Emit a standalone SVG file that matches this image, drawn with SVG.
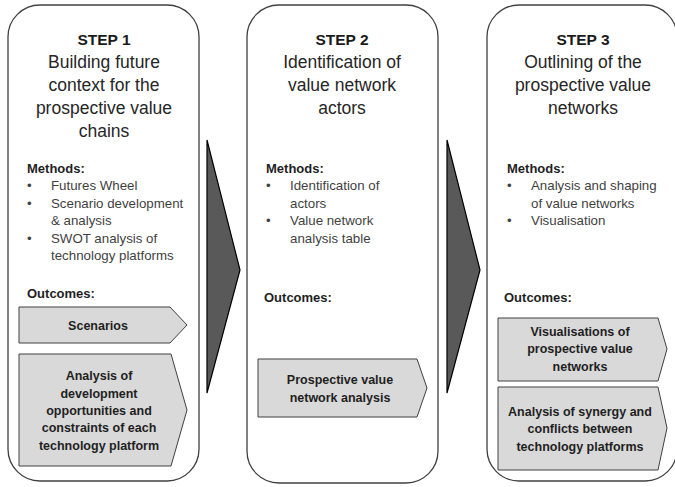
<svg xmlns="http://www.w3.org/2000/svg" width="675" height="487" viewBox="0 0 675 487">
<style>
.step{fill:#fff;stroke:#404040;stroke-width:1.3}
.arr{fill:#595959;stroke:#000;stroke-width:1.2;stroke-linejoin:miter}
.out{fill:#d9d9d9;stroke:#404040;stroke-width:1}
text{font-family:"Liberation Sans",Arial,sans-serif}
.h{font-size:15.5px;font-weight:bold;fill:#1a1a1a;text-anchor:middle}
.t{font-size:17.5px;fill:#262626;text-anchor:middle}
.lab{font-size:13px;font-weight:bold;fill:#1f1f1f}
.b{font-size:13.3px;fill:#3f3f3f}
.o{font-size:12.5px;font-weight:bold;fill:#1f1f1f;text-anchor:middle}
</style>
<rect width="675" height="487" fill="#fff"/>
<g id="connectors">
<polygon class="arr" points="207,140 240,270 207,393"/>
<polygon class="arr" points="447,140 480,270 447,393"/>
</g>
<g id="step1">
<rect class="step" x="8" y="5" width="191" height="476" rx="32" ry="32"/>
<text class="h" x="104" y="45">STEP 1</text>
<text class="t" x="104" y="68">Building future</text>
<text class="t" x="104" y="91">context for the</text>
<text class="t" x="104" y="114">prospective value</text>
<text class="t" x="104" y="137">chains</text>
<text class="lab" x="27" y="172.5">Methods:</text>
<text class="b" x="27" y="190">•</text><text class="b" x="51" y="190">Futures Wheel</text>
<text class="b" x="27" y="207.5">•</text><text class="b" x="51" y="207.5">Scenario development</text>
<text class="b" x="51" y="225">&amp; analysis</text>
<text class="b" x="27" y="242.5">•</text><text class="b" x="51" y="242.5">SWOT analysis of</text>
<text class="b" x="51" y="260">technology platforms</text>
<text class="lab" x="27" y="298">Outcomes:</text>
</g>
<g id="step1-scenarios">
<polygon class="out" points="19,307 170,307 187,325 170,343 19,343"/>
<text class="o" x="98" y="329.5">Scenarios</text>
</g>
<g id="step1-analysis">
<polygon class="out" points="19,354 171,354 187,410 171,466 19,466"/>
<text class="o" x="99" y="380">Analysis of</text>
<text class="o" x="99" y="397.5">development</text>
<text class="o" x="99" y="415">opportunities and</text>
<text class="o" x="99" y="432">constraints of each</text>
<text class="o" x="99" y="449.5">technology platform</text>
</g>
<g id="step2">
<rect class="step" x="247" y="5" width="191" height="478" rx="32" ry="32"/>
<text class="h" x="342" y="45">STEP 2</text>
<text class="t" x="342" y="68">Identification of</text>
<text class="t" x="342" y="91">value network</text>
<text class="t" x="342" y="114">actors</text>
<text class="lab" x="266" y="172.5">Methods:</text>
<text class="b" x="266" y="190">•</text><text class="b" x="290" y="190">Identification of</text>
<text class="b" x="290" y="207.5">actors</text>
<text class="b" x="266" y="225">•</text><text class="b" x="290" y="225">Value network</text>
<text class="b" x="290" y="242.5">analysis table</text>
<text class="lab" x="264" y="302">Outcomes:</text>
</g>
<g id="step2-analysis">
<polygon class="out" points="258,359 417,359 427,388 417,417 258,417"/>
<text class="o" x="340" y="383.5">Prospective value</text>
<text class="o" x="340" y="401.5">network analysis</text>
</g>
<g id="step3">
<rect class="step" x="487" y="5" width="190" height="476" rx="32" ry="32"/>
<text class="h" x="583" y="45">STEP 3</text>
<text class="t" x="583" y="68">Outlining of the</text>
<text class="t" x="583" y="91">prospective value</text>
<text class="t" x="583" y="114">networks</text>
<text class="lab" x="507" y="172.5">Methods:</text>
<text class="b" x="507" y="190">•</text><text class="b" x="531" y="190">Analysis and shaping</text>
<text class="b" x="531" y="207.5">of value networks</text>
<text class="b" x="507" y="225">•</text><text class="b" x="531" y="225">Visualisation</text>
<text class="lab" x="504" y="302">Outcomes:</text>
</g>
<g id="step3-visualisations">
<polygon class="out" points="498,318 658,318 667,349 658,381 498,381"/>
<text class="o" x="580" y="335.5">Visualisations of</text>
<text class="o" x="580" y="353">prospective value</text>
<text class="o" x="580" y="370.5">networks</text>
</g>
<g id="step3-synergy">
<polygon class="out" points="498,387 658,387 667,428 658,470 498,470"/>
<text class="o" x="580" y="416">Analysis of synergy and</text>
<text class="o" x="580" y="433">conflicts between</text>
<text class="o" x="580" y="450.5">technology platforms</text>
</g>
</svg>
